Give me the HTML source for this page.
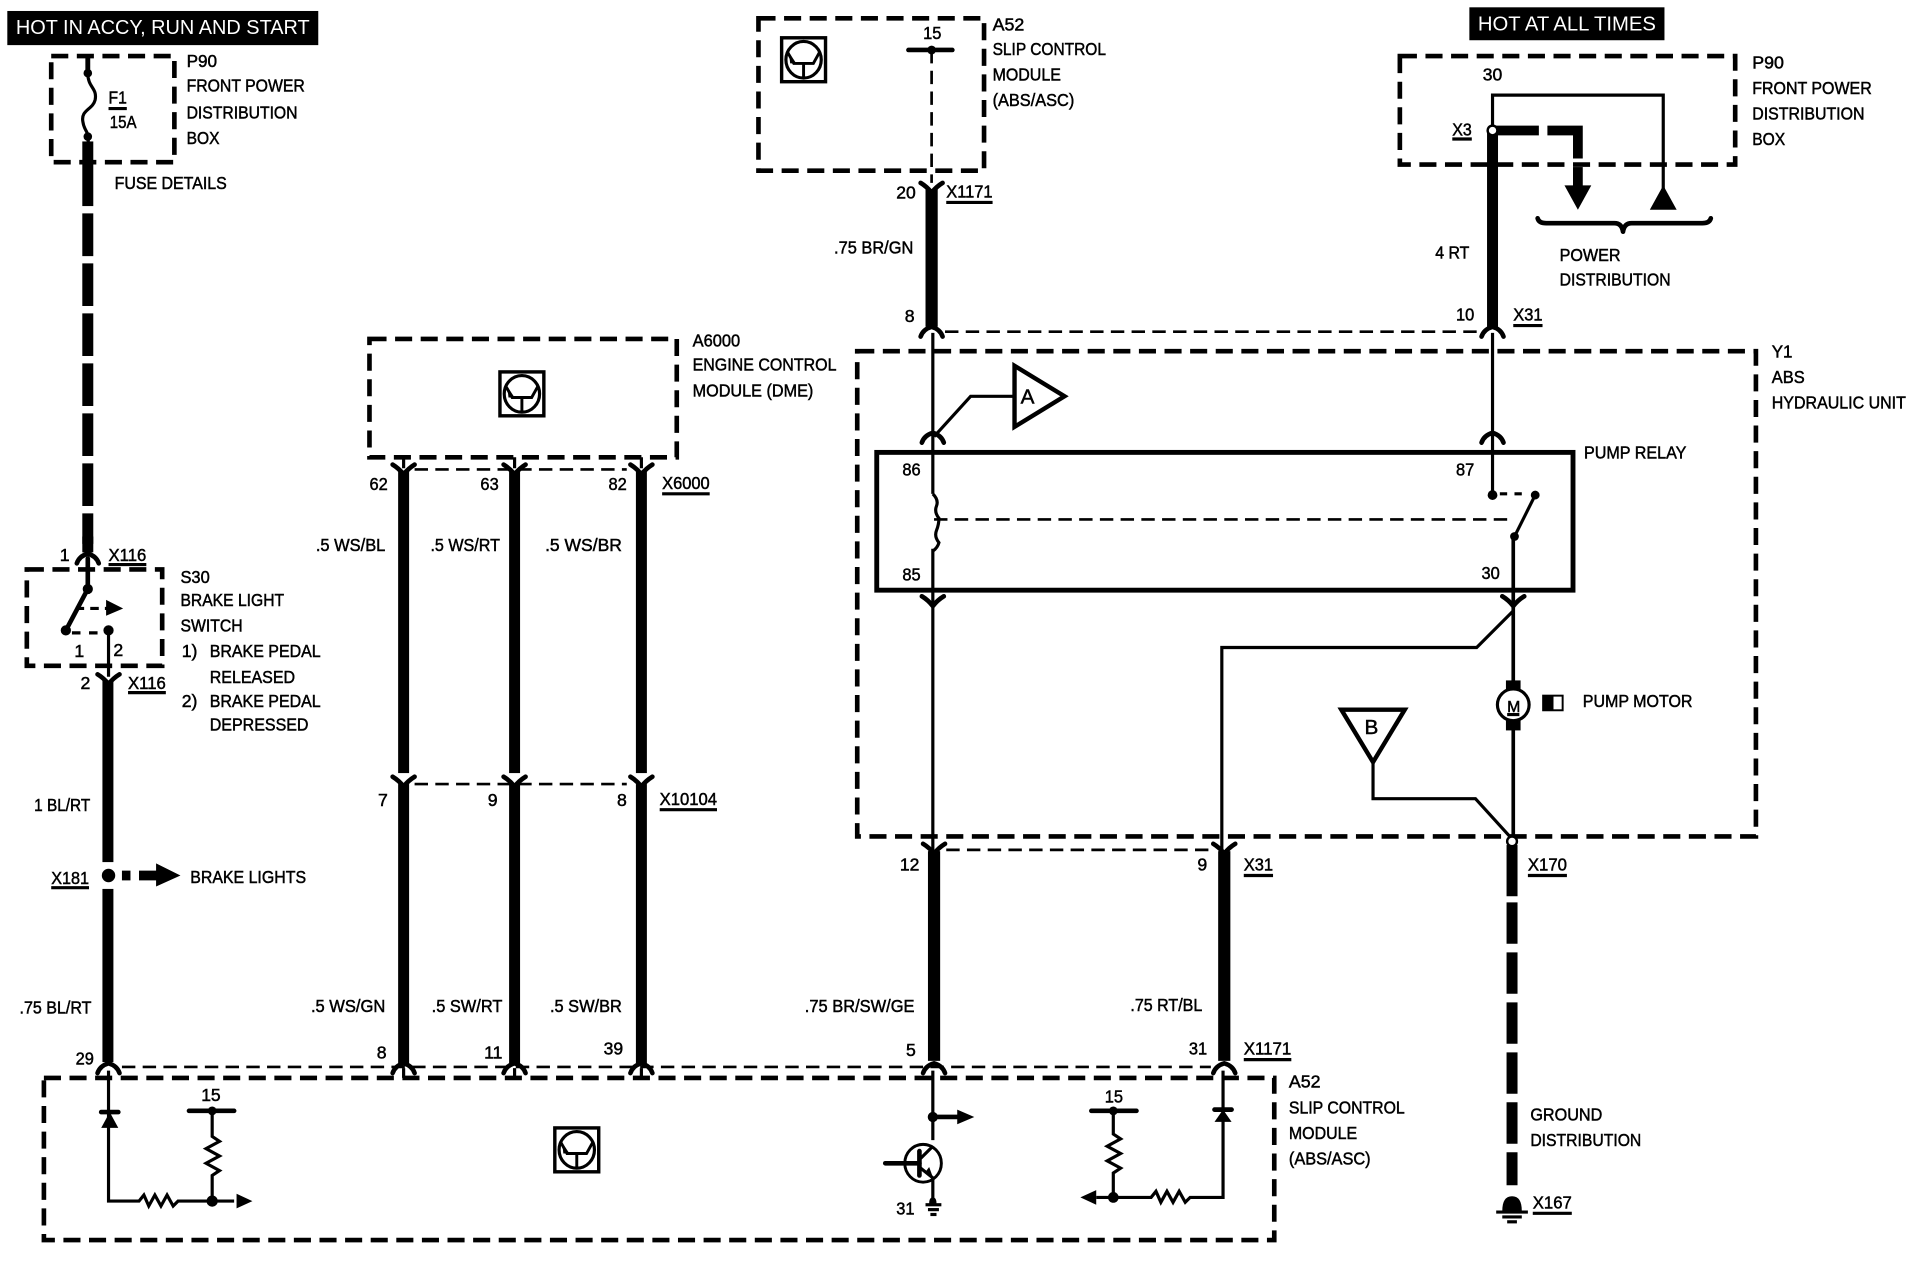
<!DOCTYPE html>
<html><head><meta charset="utf-8"><style>
html,body{margin:0;padding:0;background:#fff}
svg{display:block}
text{font-family:"Liberation Sans",sans-serif;font-size:14.5px;fill:#000;stroke:#000;stroke-width:.4}
.w{fill:#fff;stroke:none;font-size:17px}
.b{fill:none;stroke:#000;stroke-width:3.8;stroke-dasharray:14 7}
.t{fill:none;stroke:#000;stroke-width:2.6}
.d{fill:none;stroke:#000;stroke-width:2.2;stroke-dasharray:11 6}
.k{fill:#000;stroke:none}
.c{fill:none;stroke:#000;stroke-width:3.8;stroke-linecap:round;stroke-linejoin:round}
</style></head><body>
<svg xmlns="http://www.w3.org/2000/svg" width="1912" height="1264" viewBox="0 0 1568 1036.6" preserveAspectRatio="none">
<defs>
<g id="mod"><rect x="-18" y="-18" width="36" height="36" fill="#fff" stroke="#000" stroke-width="2.8"/><ellipse cx="0" cy="0" rx="14.5" ry="15" fill="none" stroke="#000" stroke-width="2.6"/><path d="M-13 -6L-8 3H8L13 -6M0 3V15" fill="none" stroke="#000" stroke-width="2.4"/><path d="M-12 -6L-6 3H-11Z" fill="#000"/></g>
<path id="dn" d="M-9 -6Q-4 -3 0 2Q4 -3 9 -6" class="c"/>
<path id="up" d="M-9 5Q-7 -1 0 -3Q7 -1 9 5" class="c"/>
</defs>

<!-- header boxes -->
<rect x="6" y="9" width="255" height="28" class="k"/>
<text class="w" x="13" y="28" textLength="241" lengthAdjust="spacingAndGlyphs">HOT IN ACCY, RUN AND START</text>
<rect x="1205" y="6" width="160" height="27" class="k"/>
<text class="w" x="1212" y="25" textLength="146" lengthAdjust="spacingAndGlyphs">HOT AT ALL TIMES</text>

<!-- left P90 -->
<rect x="42" y="46" width="101" height="87" class="b"/>
<path d="M72 46V58" fill="none" stroke="#000" stroke-width="4"/>
<path d="M72 60C72 72 80 72 78 82C76 90 66 90 68 100C69 108 74 108 72 118" class="t"/>
<circle cx="72" cy="60" r="3.5" class="k"/><circle cx="72" cy="112" r="3.5" class="k"/>
<rect x="67.5" y="116" width="9" height="53" class="k"/>
<path d="M72 175V446" fill="none" stroke="#000" stroke-width="9" stroke-dasharray="35 6"/>
<path d="M72 440V453" fill="none" stroke="#000" stroke-width="9"/>
<path d="M89 89H104" class="t"/>
<text x="89" y="85" textLength="15" lengthAdjust="spacingAndGlyphs">F1</text>
<text x="90" y="105" textLength="22" lengthAdjust="spacingAndGlyphs">15A</text>
<text x="153" y="55" textLength="25" lengthAdjust="spacingAndGlyphs">P90</text>
<text x="153" y="75" textLength="97" lengthAdjust="spacingAndGlyphs">FRONT POWER</text>
<text x="153" y="97" textLength="91" lengthAdjust="spacingAndGlyphs">DISTRIBUTION</text>
<text x="153" y="118" textLength="27" lengthAdjust="spacingAndGlyphs">BOX</text>
<text x="94" y="155" textLength="92" lengthAdjust="spacingAndGlyphs">FUSE DETAILS</text>

<!-- switch S30 -->
<use href="#up" x="72" y="457"/>
<rect x="22" y="467" width="111" height="79" class="b"/>
<path d="M72 458V483L54 517" class="c"/>
<circle cx="72" cy="483" r="4.2" class="k"/><circle cx="54" cy="517" r="4.2" class="k"/><circle cx="89" cy="517" r="4.2" class="k"/>
<path d="M59 519H86" class="t" stroke-dasharray="7 7"/>
<path d="M62 499H90" class="t" stroke-dasharray="7 5"/>
<path d="M87 492L101 499L87 505Z" class="k"/>
<path d="M89 517V555" class="t"/>
<use href="#dn" x="89" y="559"/>
<rect x="84" y="558" width="9" height="149" class="k"/>
<rect x="84" y="729" width="9" height="142" class="k"/>
<circle cx="89" cy="718" r="5.5" class="k"/>
<rect x="100" y="714" width="7" height="8" class="k"/>
<path d="M114 714H128V708L148 718L128 727V722H114Z" class="k"/>
<text x="49" y="460">1</text><text x="89" y="460" textLength="31" lengthAdjust="spacingAndGlyphs">X116</text>
<path d="M89 463H120" class="t" stroke-width="1.6"/>
<text x="61" y="539">1</text><text x="93" y="538">2</text>
<text x="66" y="565">2</text><text x="105" y="565" textLength="31" lengthAdjust="spacingAndGlyphs">X116</text>
<path d="M105 568H136" class="t" stroke-width="1.6"/>
<text x="148" y="478" textLength="24" lengthAdjust="spacingAndGlyphs">S30</text>
<text x="148" y="497" textLength="85" lengthAdjust="spacingAndGlyphs">BRAKE LIGHT</text>
<text x="148" y="518" textLength="51" lengthAdjust="spacingAndGlyphs">SWITCH</text>
<text x="149" y="539">1)</text><text x="172" y="539" textLength="91" lengthAdjust="spacingAndGlyphs">BRAKE PEDAL</text>
<text x="172" y="560" textLength="70" lengthAdjust="spacingAndGlyphs">RELEASED</text>
<text x="149" y="580">2)</text><text x="172" y="580" textLength="91" lengthAdjust="spacingAndGlyphs">BRAKE PEDAL</text>
<text x="172" y="599" textLength="81" lengthAdjust="spacingAndGlyphs">DEPRESSED</text>
<text x="28" y="665" textLength="46" lengthAdjust="spacingAndGlyphs">1 BL/RT</text>
<text x="42" y="725" textLength="31" lengthAdjust="spacingAndGlyphs">X181</text>
<path d="M42 728H73" class="t" stroke-width="1.6"/>
<text x="156" y="724" textLength="95" lengthAdjust="spacingAndGlyphs">BRAKE LIGHTS</text>
<text x="16" y="831" textLength="59" lengthAdjust="spacingAndGlyphs">.75 BL/RT</text>
<text x="62" y="873" textLength="15" lengthAdjust="spacingAndGlyphs">29</text>

<!-- A6000 -->
<rect x="303" y="278" width="252" height="97" class="b"/>
<use href="#mod" x="428" y="323"/>
<text x="568" y="284" textLength="39" lengthAdjust="spacingAndGlyphs">A6000</text>
<text x="568" y="304" textLength="118" lengthAdjust="spacingAndGlyphs">ENGINE CONTROL</text>
<text x="568" y="325" textLength="99" lengthAdjust="spacingAndGlyphs">MODULE (DME)</text>
<path d="M340 385H514" class="d"/>
<path d="M331 375V384M422 375V384M526 375V384" class="t"/>
<use href="#dn" x="331" y="387"/><use href="#dn" x="422" y="387"/><use href="#dn" x="526" y="387"/>
<rect x="326.500" y="386" width="9" height="248" class="k"/>
<rect x="417.500" y="386" width="9" height="248" class="k"/>
<rect x="521.500" y="386" width="9" height="248" class="k"/>
<path d="M340 643H514" class="d"/>
<use href="#dn" x="331" y="643"/><use href="#dn" x="422" y="643"/><use href="#dn" x="526" y="643"/>
<rect x="326.500" y="643" width="9" height="229" class="k"/>
<rect x="417.500" y="643" width="9" height="229" class="k"/>
<rect x="521.500" y="643" width="9" height="229" class="k"/>
<text x="303" y="402" textLength="15" lengthAdjust="spacingAndGlyphs">62</text>
<text x="394" y="402" textLength="15" lengthAdjust="spacingAndGlyphs">63</text>
<text x="499" y="402" textLength="15" lengthAdjust="spacingAndGlyphs">82</text>
<text x="543" y="401" textLength="39" lengthAdjust="spacingAndGlyphs">X6000</text>
<path d="M543 405H582" class="t" stroke-width="1.6"/>
<text x="259" y="452" textLength="57" lengthAdjust="spacingAndGlyphs">.5 WS/BL</text>
<text x="353" y="452" textLength="57" lengthAdjust="spacingAndGlyphs">.5 WS/RT</text>
<text x="447" y="452" textLength="63" lengthAdjust="spacingAndGlyphs">.5  WS/BR</text>
<text x="310" y="661">7</text><text x="400" y="661">9</text><text x="506" y="661">8</text>
<text x="541" y="660" textLength="47" lengthAdjust="spacingAndGlyphs">X10104</text>
<path d="M541 664H588" class="t" stroke-width="1.6"/>
<text x="255" y="830" textLength="61" lengthAdjust="spacingAndGlyphs">.5 WS/GN</text>
<text x="354" y="830" textLength="58" lengthAdjust="spacingAndGlyphs">.5 SW/RT</text>
<text x="451" y="830" textLength="59" lengthAdjust="spacingAndGlyphs">.5 SW/BR</text>
<text x="309" y="868">8</text><text x="397" y="868" textLength="15" lengthAdjust="spacingAndGlyphs">11</text>
<text x="495" y="865" textLength="16" lengthAdjust="spacingAndGlyphs">39</text>

<!-- top A52 -->
<rect x="622" y="15" width="185" height="125" class="b"/>
<use href="#mod" x="659" y="49"/>
<text x="757" y="32" textLength="15" lengthAdjust="spacingAndGlyphs">15</text>
<path d="M745 41H781" class="c"/><circle cx="764" cy="41" r="3.6" class="k"/>
<path d="M764 41V150" class="d" stroke-dasharray="15 5"/>
<use href="#dn" x="764" y="156"/>
<rect x="759" y="155" width="10" height="113" class="k"/>
<use href="#up" x="764" y="271"/>
<text x="814" y="25" textLength="26" lengthAdjust="spacingAndGlyphs">A52</text>
<text x="814" y="45" textLength="93" lengthAdjust="spacingAndGlyphs">SLIP CONTROL</text>
<text x="814" y="66" textLength="56" lengthAdjust="spacingAndGlyphs">MODULE</text>
<text x="814" y="87" textLength="67" lengthAdjust="spacingAndGlyphs">(ABS/ASC)</text>
<text x="735" y="163" textLength="16" lengthAdjust="spacingAndGlyphs">20</text>
<text x="776" y="162" textLength="38" lengthAdjust="spacingAndGlyphs">X1171</text>
<path d="M776 166H814" class="t" stroke-width="1.6"/>
<text x="684" y="208" textLength="65" lengthAdjust="spacingAndGlyphs">.75 BR/GN</text>
<text x="742" y="264">8</text>
<path d="M775 272H1214" class="d"/>

<!-- right P90 -->
<rect x="1148" y="46" width="275" height="89" class="b"/>
<text x="1216" y="66" textLength="16" lengthAdjust="spacingAndGlyphs">30</text>
<text x="1191" y="111" textLength="16" lengthAdjust="spacingAndGlyphs">X3</text>
<path d="M1191 114H1207" class="t" stroke-width="1.6"/>
<path d="M1224 107V78H1364V155" class="t"/>
<path d="M1353 172H1375L1364 152Z" class="k"/>
<rect x="1219.500" y="107" width="9" height="161" class="k"/>
<path d="M1224 107H1262M1269 107H1294V130" fill="none" stroke="#000" stroke-width="8"/>
<path d="M1294 137V155" fill="none" stroke="#000" stroke-width="8"/>
<path d="M1283 152H1305L1294 172Z" class="k"/>
<circle cx="1224" cy="107" r="4" fill="#fff" stroke="#000" stroke-width="2"/>
<path d="M1261 179Q1262 183 1268 183H1324Q1330 183 1331 190Q1332 183 1338 183H1396Q1402 183 1403 179" class="c"/>
<text x="1437" y="56" textLength="26" lengthAdjust="spacingAndGlyphs">P90</text>
<text x="1437" y="77" textLength="98" lengthAdjust="spacingAndGlyphs">FRONT POWER</text>
<text x="1437" y="98" textLength="92" lengthAdjust="spacingAndGlyphs">DISTRIBUTION</text>
<text x="1437" y="119" textLength="27" lengthAdjust="spacingAndGlyphs">BOX</text>
<text x="1279" y="214" textLength="50" lengthAdjust="spacingAndGlyphs">POWER</text>
<text x="1279" y="234" textLength="91" lengthAdjust="spacingAndGlyphs">DISTRIBUTION</text>
<text x="1177" y="212" textLength="28" lengthAdjust="spacingAndGlyphs">4 RT</text>
<text x="1194" y="263" textLength="15" lengthAdjust="spacingAndGlyphs">10</text>
<text x="1241" y="263" textLength="24" lengthAdjust="spacingAndGlyphs">X31</text>
<path d="M1241 267H1265" class="t" stroke-width="1.6"/>
<use href="#up" x="1224" y="271"/>

<!-- Y1 -->
<rect x="703" y="288" width="737" height="398" class="b"/>
<text x="1453" y="293" textLength="17" lengthAdjust="spacingAndGlyphs">Y1</text>
<text x="1453" y="314" textLength="27" lengthAdjust="spacingAndGlyphs">ABS</text>
<text x="1453" y="335" textLength="110" lengthAdjust="spacingAndGlyphs">HYDRAULIC UNIT</text>
<path d="M765 273V405M765 450V700" class="t"/>
<path d="M1224 273V405" class="t"/>
<use href="#up" x="765" y="358"/><use href="#up" x="1224" y="358"/>
<rect x="719" y="371" width="571" height="113" fill="none" stroke="#000" stroke-width="4"/>
<path d="M832 300V350L873 325Z" fill="#fff" stroke="#000" stroke-width="3.6"/>
<text x="837" y="331" style="font-size:17px">A</text>
<path d="M832 325H796L766 358" class="t"/>
<text x="1299" y="376" textLength="84" lengthAdjust="spacingAndGlyphs">PUMP RELAY</text>
<text x="740" y="390" textLength="15" lengthAdjust="spacingAndGlyphs">86</text>
<text x="1194" y="390" textLength="15" lengthAdjust="spacingAndGlyphs">87</text>
<text x="740" y="476" textLength="15" lengthAdjust="spacingAndGlyphs">85</text>
<text x="1215" y="475" textLength="15" lengthAdjust="spacingAndGlyphs">30</text>
<path d="M765 405Q770 410 768 415Q766 420 770 425Q770 430 768 435Q766 440 770 445Q769 449 765 452" class="t"/>
<path d="M766 426H1238" class="d" stroke-dasharray="11 7"/>
<circle cx="1224" cy="406" r="4" class="k"/><circle cx="1259" cy="406" r="3.6" class="k"/><circle cx="1242" cy="440" r="3.6" class="k"/>
<path d="M1230 405H1254" class="t" stroke-dasharray="6 6"/>
<path d="M1259 406L1242 440" class="t"/>
<path d="M1241 440V690" fill="none" stroke="#000" stroke-width="3"/>
<use href="#dn" x="765" y="495"/><use href="#dn" x="1241" y="495"/>
<path d="M1241 501L1211 531H1002V700" class="t"/>
<rect x="1235" y="558" width="12" height="10" class="k"/>
<rect x="1235" y="589" width="12" height="10" class="k"/>
<circle cx="1241" cy="578" r="13" fill="#fff" stroke="#000" stroke-width="2.6"/>
<text x="1236" y="584" style="font-size:13px">M</text>
<path d="M1236 586H1246" class="t" stroke-width="1.4"/>
<rect x="1265.500" y="570.500" width="16" height="12" fill="#fff" stroke="#000" stroke-width="1.6"/><rect x="1265" y="570" width="9" height="13" class="k"/>
<text x="1298" y="580" textLength="90" lengthAdjust="spacingAndGlyphs">PUMP MOTOR</text>
<path d="M1100 582H1152L1126 625Z" fill="#fff" stroke="#000" stroke-width="3.6"/>
<text x="1119" y="602" style="font-size:17px">B</text>
<path d="M1126 625V655H1210L1240 688" class="t"/>
<rect x="1235.500" y="693" width="9" height="42" class="k"/>
<path d="M1240 740V972" fill="none" stroke="#000" stroke-width="9" stroke-dasharray="34 7"/>
<circle cx="1240" cy="690" r="4" fill="#fff" stroke="#000" stroke-width="2"/>
<path d="M1232 993Q1232 981 1240 981Q1248 981 1248 993Z" class="k"/>
<path d="M1227 994H1253" class="t"/><path d="M1232 998H1248" class="t"/><path d="M1236 1002H1244" class="t"/>
<text x="1253" y="714" textLength="32" lengthAdjust="spacingAndGlyphs">X170</text>
<path d="M1253 718H1285" class="t" stroke-width="1.6"/>
<text x="1255" y="919" textLength="59" lengthAdjust="spacingAndGlyphs">GROUND</text>
<text x="1255" y="940" textLength="91" lengthAdjust="spacingAndGlyphs">DISTRIBUTION</text>
<text x="1257" y="991" textLength="32" lengthAdjust="spacingAndGlyphs">X167</text>
<path d="M1257 995H1289" class="t" stroke-width="1.6"/>

<!-- lower pair -->
<path d="M776 697H994" class="d"/>
<use href="#dn" x="766" y="698"/><use href="#dn" x="1004" y="698"/>
<rect x="761" y="698" width="10" height="172" class="k"/>
<rect x="999" y="698" width="10" height="172" class="k"/>
<text x="738" y="714" textLength="16" lengthAdjust="spacingAndGlyphs">12</text>
<text x="982" y="714">9</text>
<text x="1020" y="714" textLength="24" lengthAdjust="spacingAndGlyphs">X31</text>
<path d="M1020 718H1044" class="t" stroke-width="1.6"/>
<text x="660" y="830" textLength="90" lengthAdjust="spacingAndGlyphs">.75 BR/SW/GE</text>
<text x="927" y="829" textLength="59" lengthAdjust="spacingAndGlyphs">.75 RT/BL</text>
<text x="743" y="866">5</text>
<text x="975" y="865" textLength="15" lengthAdjust="spacingAndGlyphs">31</text>
<text x="1020" y="865" textLength="39" lengthAdjust="spacingAndGlyphs">X1171</text>
<path d="M1020 869H1059" class="t" stroke-width="1.6"/>

<!-- bottom A52 -->
<path d="M100 875H993" class="d"/>
<rect x="36" y="884" width="1009" height="133" class="b"/>
<use href="#up" x="89" y="875"/><use href="#up" x="331" y="875"/><use href="#up" x="422" y="875"/><use href="#up" x="526" y="875"/><use href="#up" x="766" y="875"/><use href="#up" x="1004" y="875"/>
<path d="M331 876V884M422 876V884M526 876V884" class="t"/>
<use href="#mod" x="473" y="943"/>
<text x="1057" y="892" textLength="26" lengthAdjust="spacingAndGlyphs">A52</text>
<text x="1057" y="913" textLength="95" lengthAdjust="spacingAndGlyphs">SLIP CONTROL</text>
<text x="1057" y="934" textLength="56" lengthAdjust="spacingAndGlyphs">MODULE</text>
<text x="1057" y="955" textLength="67" lengthAdjust="spacingAndGlyphs">(ABS/ASC)</text>

<!-- left circuit -->
<path d="M89 878V985H114L118 980L122 989L127 980L132 989L137 980L142 989L146 985H192" class="t"/>
<path d="M83 912H97" class="c"/><path d="M83 925H97L90 912Z" class="k"/>
<text x="165" y="903" textLength="16" lengthAdjust="spacingAndGlyphs">15</text>
<path d="M155 911H192" class="c"/><circle cx="174" cy="911" r="3.6" class="k"/>
<path d="M174 911V932L180 936L169 942L180 948L169 954L180 960L174 964V985" class="t"/>
<circle cx="174" cy="985" r="4.6" class="k"/>
<path d="M194 979L207 985L194 991Z" class="k"/>

<!-- transistor -->
<path d="M765 878V935M765 965V985" class="t"/>
<circle cx="765" cy="916" r="4.2" class="k"/>
<path d="M765 916H786" class="c"/><path d="M785 910L799 916L785 922Z" class="k"/>
<ellipse cx="757" cy="954" rx="15" ry="15.500" fill="none" stroke="#000" stroke-width="2.4"/>
<path d="M726 954H754" class="c"/><path d="M754 944V964" class="c"/>
<path d="M755 950L765 940M755 958L765 966" class="t"/>
<path d="M759 961L766 968L762 957Z" class="k"/>
<text x="735" y="996" textLength="15" lengthAdjust="spacingAndGlyphs">31</text>
<path d="M762 987Q762 982 765 982Q768 982 768 987Z" class="k"/>
<path d="M759 988H772" class="t"/><path d="M761 992H770" class="t"/><path d="M763 996H768" class="t"/>

<!-- right circuit -->
<text x="906" y="904" textLength="15" lengthAdjust="spacingAndGlyphs">15</text>
<path d="M895 911H932" class="c"/><circle cx="913" cy="911" r="3.6" class="k"/>
<path d="M913 911V930L919 934L908 940L919 946L908 952L919 958L913 962V982" class="t"/>
<path d="M899 982H944L948 977L952 986L957 977L962 986L967 977L972 986L976 982H1003V878" class="t"/>
<circle cx="913" cy="982" r="4.4" class="k"/>
<path d="M899 976L886 982L899 988Z" class="k"/>
<path d="M996 910H1010" class="c"/><path d="M996 920H1010L1003 910Z" class="k"/>
</svg>
</body></html>
